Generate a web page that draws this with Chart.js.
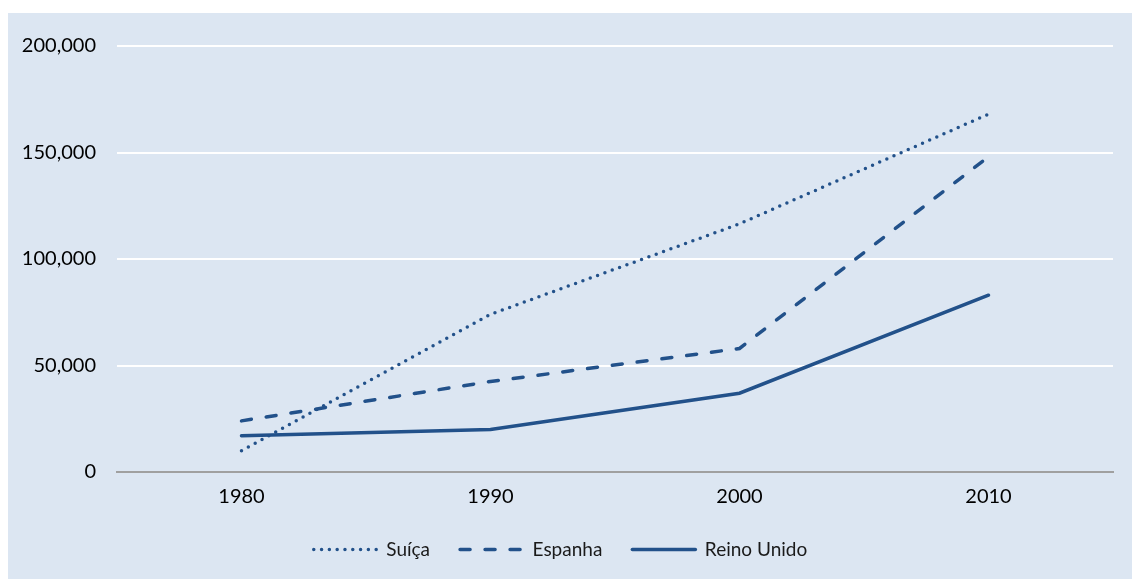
<!DOCTYPE html>
<html>
<head>
<meta charset="utf-8">
<script src="https://cdn.jsdelivr.net/npm/chart.js@4"></script>
<style>
  body { margin: 0; background: #ffffff; }
  #wrap { position: absolute; left: 8px; top: 13px; width: 1124px; height: 566px; background: #dce6f2; }
</style>
</head>
<body>
<div id="wrap"><canvas id="lineChart"></canvas></div>
<script>
var years = ["1980", "1990", "2000", "2010"];
var suica = [10000, 74000, 116500, 168000];
var espanha = [24000, 42500, 58000, 148000];
var reinoUnido = [17000, 20000, 37000, 83000];
var lineColor = "#22518a";

var ctx = document.getElementById("lineChart").getContext("2d");
new Chart(ctx, {
  type: "line",
  data: {
    labels: years,
    datasets: [
      {
        label: "Suíça",
        data: suica,
        borderColor: lineColor,
        backgroundColor: lineColor,
        borderWidth: 3.5,
        borderDash: [0, 7.8],
        borderCapStyle: "round",
        pointRadius: 0,
        tension: 0,
      },
      {
        label: "Espanha",
        data: espanha,
        borderColor: lineColor,
        backgroundColor: lineColor,
        borderWidth: 3.5,
        borderDash: [10, 15],
        borderCapStyle: "round",
        pointRadius: 0,
        tension: 0,
      },
      {
        label: "Reino Unido",
        data: reinoUnido,
        borderColor: lineColor,
        backgroundColor: lineColor,
        borderWidth: 3.5,
        borderCapStyle: "round",
        pointRadius: 0,
        tension: 0,
      },
    ],
  },
  options: {
    responsive: true,
    maintainAspectRatio: false,
    animation: false,
    layout: {
      padding: { top: 27, right: 19, bottom: 10, left: 0 },
    },
    scales: {
      x: {
        offset: true,
        grid: { display: false, drawTicks: false },
        border: { display: true, color: "#a0a0a0", width: 2 },
        ticks: { color: "#000000", padding: 13, font: { family: "Lato", size: 20 } },
        afterFit: function (scale) { scale.height = 38; },
      },
      y: {
        min: 0,
        max: 200000,
        ticks: {
          stepSize: 50000,
          color: "#000000",
          padding: 21,
          font: { family: "Lato", size: 20 },
          callback: function (v) { return v.toLocaleString("en-US"); },
        },
        grid: { color: "#ffffff", lineWidth: 2, drawTicks: false },
        border: { display: false },
        afterFit: function (scale) { scale.width = 109; },
      },
    },
    plugins: {
      legend: {
        display: true,
        position: "bottom",
        labels: {
          usePointStyle: true,
          pointStyle: "line",
          pointStyleWidth: 63,
          padding: 30,
          color: "#1a1a1a",
          font: { family: "Lato", size: 19 },
          generateLabels: function (chart) {
            var items = Chart.defaults.plugins.legend.labels.generateLabels(chart);
            items.forEach(function (item) {
              var ds = chart.data.datasets[item.datasetIndex];
              item.lineDash = ds.borderDash || [];
              item.lineCap = "round";
              item.lineWidth = 3.5;
              item.strokeStyle = lineColor;
              item.pointStyle = "line";
            });
            return items;
          },
        },
      },
      tooltip: { enabled: false },
    },
  },
});
</script>
</body>
</html>
